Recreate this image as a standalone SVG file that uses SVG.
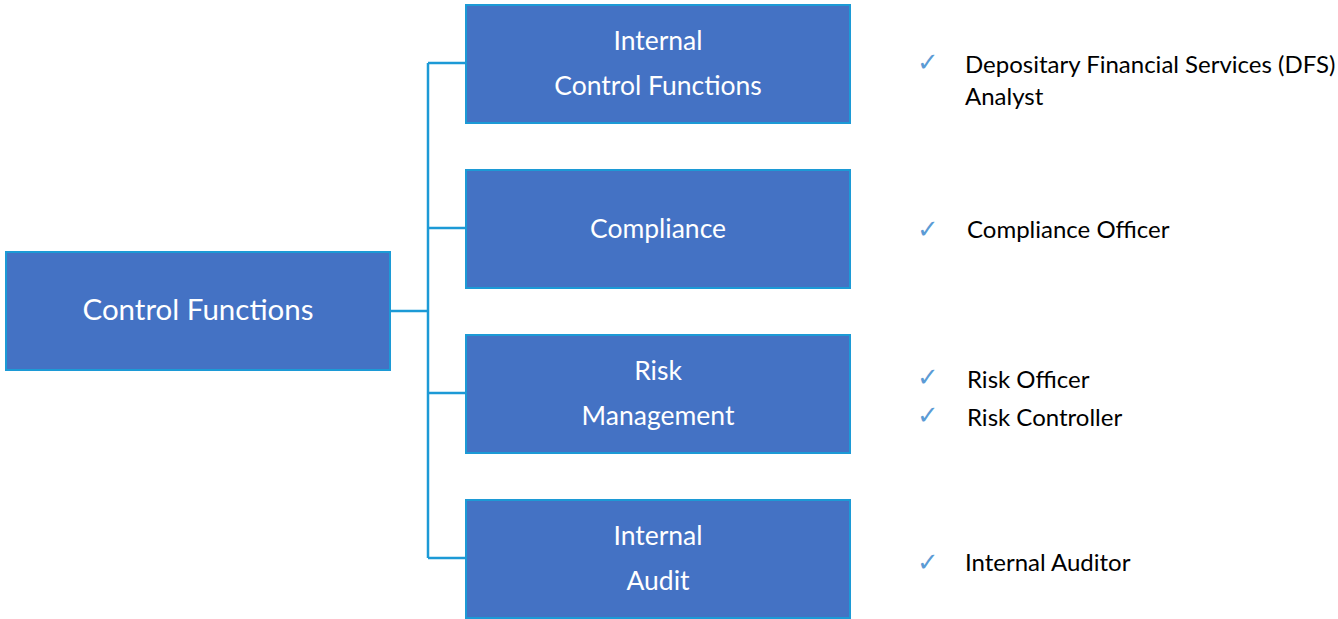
<svg xmlns="http://www.w3.org/2000/svg" width="1338" height="619" viewBox="0 0 1338 619">
<style>
.box{fill:#4472C4;stroke:#1C9AD6;stroke-width:2}
.bt{fill:#ffffff;font-family:Lato,"Open Sans",sans-serif;text-anchor:middle}
.lt{fill:#000000;font-family:Lato,"Open Sans",sans-serif;font-size:24px}
.ck{fill:#5B9BD5;font-family:"DejaVu Sans",sans-serif;font-size:26px}
.con{fill:none;stroke:#1C9AD6;stroke-width:2.5}
</style>
<rect width="1338" height="619" fill="#ffffff"/>
<g id="connectors">
<path class="con" d="M390 311 H428 M428 63 V558 M428 63 H465 M428 228 H465 M428 393 H465 M428 558 H465"/>
</g>
<g id="root">
<rect class="box" x="6" y="252" width="384" height="118"/>
<text class="bt" x="198" y="320" font-size="29.5">Control Functions</text>
</g>
<g id="internal-control">
<rect class="box" x="466" y="5" width="384" height="118"/>
<text class="bt" x="658" y="50" font-size="26.5">Internal</text>
<text class="bt" x="658" y="95" font-size="26.5">Control Functions</text>
</g>
<g id="compliance">
<rect class="box" x="466" y="170" width="384" height="118"/>
<text class="bt" x="658" y="238" font-size="26.5">Compliance</text>
</g>
<g id="risk">
<rect class="box" x="466" y="335" width="384" height="118"/>
<text class="bt" x="658" y="380" font-size="26.5">Risk</text>
<text class="bt" x="658" y="425" font-size="26.5">Management</text>
</g>
<g id="audit">
<rect class="box" x="466" y="500" width="384" height="118"/>
<text class="bt" x="658" y="545" font-size="26.5">Internal</text>
<text class="bt" x="658" y="590" font-size="26.5">Audit</text>
</g>
<g id="roles">
<text class="ck" x="917" y="71">✓</text>
<text class="lt" x="965" y="73">Depositary Financial Services (DFS)</text>
<text class="lt" x="965" y="105">Analyst</text>
<text class="ck" x="917" y="238">✓</text>
<text class="lt" x="967" y="238">Compliance Officer</text>
<text class="ck" x="917" y="386">✓</text>
<text class="lt" x="967" y="388">Risk Officer</text>
<text class="ck" x="917" y="424">✓</text>
<text class="lt" x="967" y="426">Risk Controller</text>
<text class="ck" x="917" y="571">✓</text>
<text class="lt" x="965" y="571">Internal Auditor</text>
</g>
</svg>
